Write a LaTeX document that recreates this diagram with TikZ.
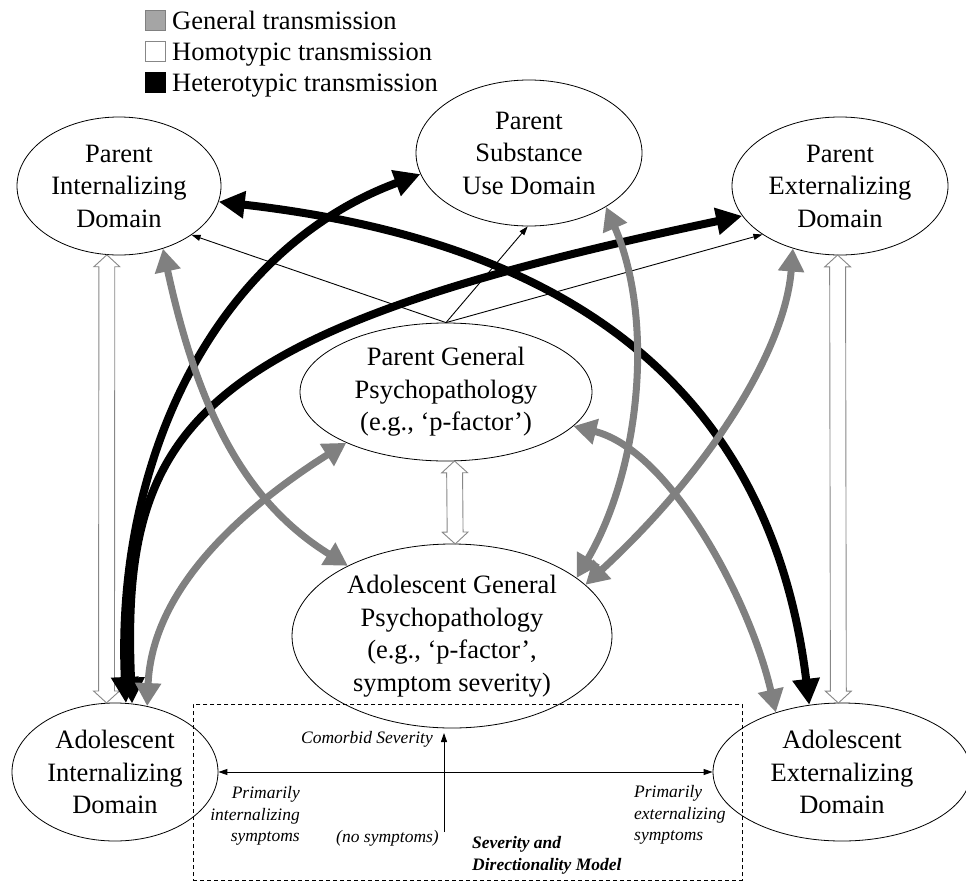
\documentclass[tikz,border=0pt]{standalone}
\usepackage{fontspec}
\setmainfont{Liberation Serif}
\usetikzlibrary{arrows.meta,shapes.geometric,shapes.arrows}
\definecolor{genc}{RGB}{128,128,128}
\definecolor{homoc}{RGB}{135,135,135}
\definecolor{legg}{RGB}{165,165,165}
\newcommand\bigfs{\fontsize{26.5}{32.5}\selectfont}
\newcommand\smallit{\fontsize{17.5}{21.5}\selectfont\itshape}
\newcommand\smallbi{\fontsize{17.5}{22}\selectfont\itshape\bfseries}
\begin{document}
\begin{tikzpicture}[x=1pt,y=-1pt,
  dom/.style={ellipse,draw,line width=0.8pt,inner sep=0pt,align=center,font=\bigfs},
  homo/.style={double arrow,draw=homoc,fill=white,line width=0.9pt,inner xsep=0pt,inner ysep=7.5pt,
    double arrow head extend=5pt,double arrow tip angle=95},
  gen/.style={draw=genc,line width=7pt,{Triangle[length=23pt,width=25pt]}-{Triangle[length=23pt,width=25pt]}},
  het/.style={draw=black,line width=8pt,{Triangle[length=26pt,width=26pt]}-{Triangle[length=26pt,width=26pt]}},
  thinarr/.style={line width=0.9pt,-{Triangle[length=9pt,width=6pt]}},
  lab/.style={font=\smallit,inner sep=0pt},
  leg/.style={minimum size=20pt,inner sep=0pt,line width=0.9pt}]
\useasboundingbox (0,0) rectangle (966,881);

% domains
\node[dom,minimum width=204pt,minimum height=138pt] (PI) at (119,186) {Parent\\Internalizing\\Domain};
\node[dom,minimum width=226pt,minimum height=146pt] (PS) at (529,153) {Parent\\Substance\\Use Domain};
\node[dom,minimum width=216pt,minimum height=138pt] (PE) at (840,186) {Parent\\Externalizing\\Domain};
\node[dom,minimum width=292pt,minimum height=138pt] (PG) at (446,392) {Parent General\\Psychopathology\\(e.g., ‘p-factor’)};
\node[dom,minimum width=320pt,minimum height=184pt] (AG) at (452,636) {Adolescent General\\Psychopathology\\(e.g., ‘p-factor’,\\symptom severity)};
\node[dom,minimum width=206pt,minimum height=138pt] (AI) at (115,772) {Adolescent\\Internalizing\\Domain};
\node[dom,minimum width=258pt,minimum height=138pt] (AE) at (842,772) {Adolescent\\Externalizing\\Domain};

% severity and directionality box
\node[draw,dash pattern=on 4pt off 3pt,line width=0.9pt,minimum width=549pt,minimum height=176pt,
  anchor=north west,inner sep=0pt] (box) at (193,704) {};
\draw[line width=0.9pt,{Triangle[length=9pt,width=6pt]}-{Triangle[length=9pt,width=6pt]}] (AI.east) -- (AE.west);
\coordinate (ns) at (444,832);
\coordinate (cs) at (444,733);
\draw[thinarr] (ns) -- (cs);
\node[lab,anchor=east] (lcs) at (433,739) {Comorbid Severity};
\node[lab,anchor=east,align=right] (lpi) at (300,816) {Primarily\\internalizing\\symptoms};
\node[lab,anchor=east] (lno) at (439,838) {(no symptoms)};
\node[font=\smallbi,inner sep=0pt,anchor=west,align=left] (lsd) at (472,855) {Severity and\\Directionality Model};
\node[lab,anchor=west,align=left] (lpe) at (634,815) {Primarily\\externalizing\\symptoms};

% homotypic transmission
\path (PI.-100) -- (AI.97) node[homo,midway,sloped,minimum height=448pt] (H1) {};
\path (PE.-92) -- (AE.93) node[homo,midway,sloped,minimum height=448pt] (H2) {};
\path (PG.-83) -- (AG.88) node[homo,midway,sloped,minimum height=83pt] (H3) {};

% thin arrows from parent general
\draw[thinarr] (PG.north) -- (PI.-34);
\draw[thinarr] (PG.north) -- (PS.-91);
\draw[thinarr] (PG.north) -- (PE.212);

% heterotypic transmission
\draw[het] (AI.81) .. controls (115,460) and (215,250) .. (PS.191);
\draw[het] (AI.76) .. controls (120,420) and (200,330) .. (PE.197);
\draw[het] (PI.-9) .. controls (510,235) and (765,345) .. (AE.116);

% general transmission
\draw[gen] (PI.-55) .. controls (200,420) and (250,505) .. (AG.146);
\draw[gen] (AI.64) .. controls (152,590) and (240,510) .. (PG.207);
\draw[gen] (PS.-35) .. controls (655,320) and (640,470) .. (AG.25);
\draw[gen] (PE.233) .. controls (785,350) and (710,470) .. (AG.21);
\draw[gen] (PG.-15) .. controls (670,450) and (750,600) .. (AE.138);

% legend
\node[leg,draw=genc,fill=legg] (L1) at (155,20) {};
\node[leg,draw=homoc,fill=white] (L2) at (155,51) {};
\node[leg,draw=black,fill=black] (L3) at (155,82) {};
\node[font=\bigfs,inner sep=0pt,anchor=base west] (T1) at (172,29) {General transmission};
\node[font=\bigfs,inner sep=0pt,anchor=base west] (T2) at (172,60) {Homotypic transmission};
\node[font=\bigfs,inner sep=0pt,anchor=base west] (T3) at (172,91) {Heterotypic transmission};
\end{tikzpicture}
\end{document}
